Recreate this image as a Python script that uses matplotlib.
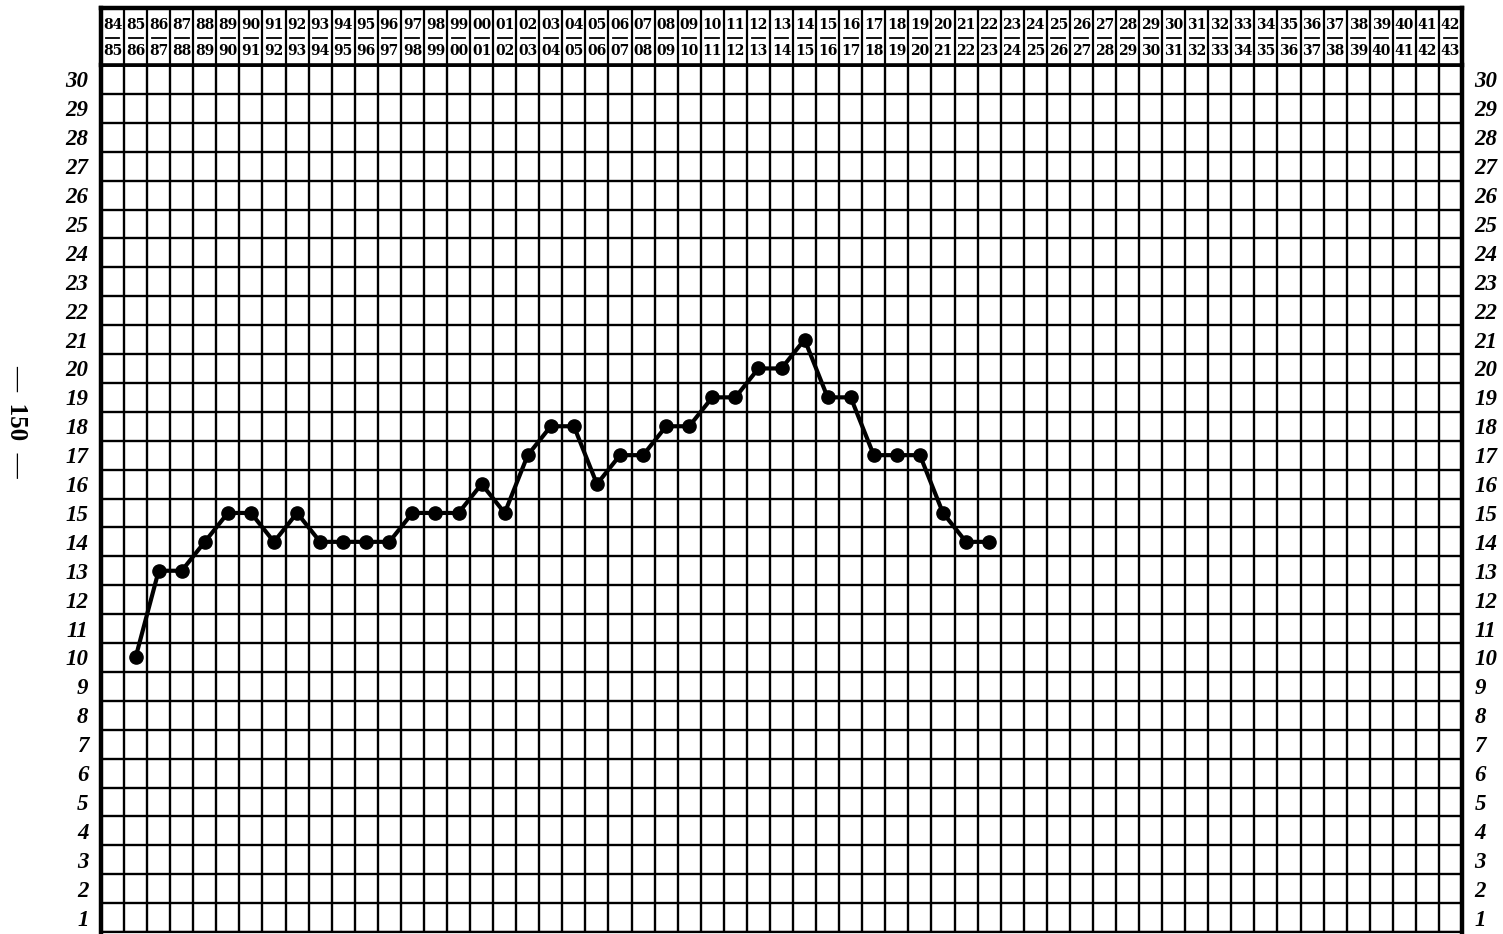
import matplotlib
matplotlib.use("Agg")
import matplotlib.pyplot as plt
from matplotlib.lines import Line2D

# ---- data ----
season_start = ["84", "85", "86", "87", "88", "89", "90", "91", "92", "93",
                "94", "95", "96", "97", "98", "99", "00", "01", "02", "03",
                "04", "05", "06", "07", "08", "09", "10", "11", "12", "13",
                "14", "15", "16", "17", "18", "19", "20", "21", "22", "23",
                "24", "25", "26", "27", "28", "29", "30", "31", "32", "33",
                "34", "35", "36", "37", "38", "39", "40", "41", "42"]
season_end = ["85", "86", "87", "88", "89", "90", "91", "92", "93", "94",
              "95", "96", "97", "98", "99", "00", "01", "02", "03", "04",
              "05", "06", "07", "08", "09", "10", "11", "12", "13", "14",
              "15", "16", "17", "18", "19", "20", "21", "22", "23", "24",
              "25", "26", "27", "28", "29", "30", "31", "32", "33", "34",
              "35", "36", "37", "38", "39", "40", "41", "42", "43"]
# values for seasons 85/86 ... 22/23
data_seasons = season_start[1:39]
values = [10, 13, 13, 14, 15, 15, 14, 15, 14, 14,
          14, 14, 15, 15, 15, 16, 15, 17, 18, 18,
          16, 17, 17, 18, 18, 19, 19, 20, 20, 21,
          19, 19, 17, 17, 17, 15, 14, 14]
y_labels = list(range(1, 31))
page_label = "—  150  —"

W, H = 1503, 934
fig = plt.figure(figsize=(W / 100, H / 100), dpi=100)
fig.patch.set_facecolor("white")

L, R = 101, 1462
top_hdr, hdr_bot, bot = 8, 65, 932

ax = fig.add_axes([L / W, (H - bot) / H, (R - L) / W, (bot - hdr_bot) / H])
hx = fig.add_axes([L / W, (H - hdr_bot) / H, (R - L) / W, (hdr_bot - top_hdr) / H])

n = len(season_start)
xpos = {s: i for i, s in enumerate(season_start)}

# main grid
ax.set_xlim(-0.5, n - 0.5)
ax.set_ylim(0.5, 30.5)
for i in range(n + 1):
    ax.axvline(i - 0.5, color="black", lw=1.7, zorder=1)
for k in range(31):
    ax.axhline(k + 0.5, color="black", lw=1.7, zorder=1)

xs = [xpos[s] for s in data_seasons]
ax.plot(xs, values, color="black", lw=3.0, marker="o", markersize=9.5,
        solid_joinstyle="round", zorder=3)

ax.set_xticks([])
ax.set_yticks(y_labels)
ax.set_yticklabels([str(v) for v in y_labels])
ax.tick_params(axis="y", which="both", length=0, left=True, right=True,
               labelleft=True, labelright=True, pad=9)
for lab in ax.get_yticklabels():
    lab.set_fontfamily("Liberation Serif")
    lab.set_fontweight("bold")
    lab.set_fontstyle("italic")
    lab.set_fontsize(16.5)
for side in ("left", "right"):
    ax.spines[side].set_linewidth(3.2)
ax.spines["top"].set_linewidth(2.6)
ax.spines["bottom"].set_linewidth(1.6)

# header
hx.set_xlim(-0.5, n - 0.5)
hx.set_ylim(0, 1)
hx.set_xticks([])
hx.set_yticks([])
for side in ("left", "right", "top"):
    hx.spines[side].set_linewidth(3.2)
hx.spines["bottom"].set_linewidth(2.6)
for i in range(1, n):
    hx.axvline(i - 0.5, color="black", lw=1.6)
for i, (a, b) in enumerate(zip(season_start, season_end)):
    hx.text(i, 0.70, a, ha="center", va="center", fontsize=10,
            fontfamily="DejaVu Serif", fontweight="bold")
    hx.text(i, 0.245, b, ha="center", va="center", fontsize=10,
            fontfamily="DejaVu Serif", fontweight="bold")
    hx.add_line(Line2D([i - 0.3, i + 0.3], [0.47, 0.47], color="black", lw=1.3))

fig.text(17 / W, 1 - 421 / H, page_label, rotation=-90, ha="center", va="center",
         fontsize=18, fontfamily="Liberation Serif", fontweight="bold")

fig.savefig("out.png", dpi=100, facecolor="white")
